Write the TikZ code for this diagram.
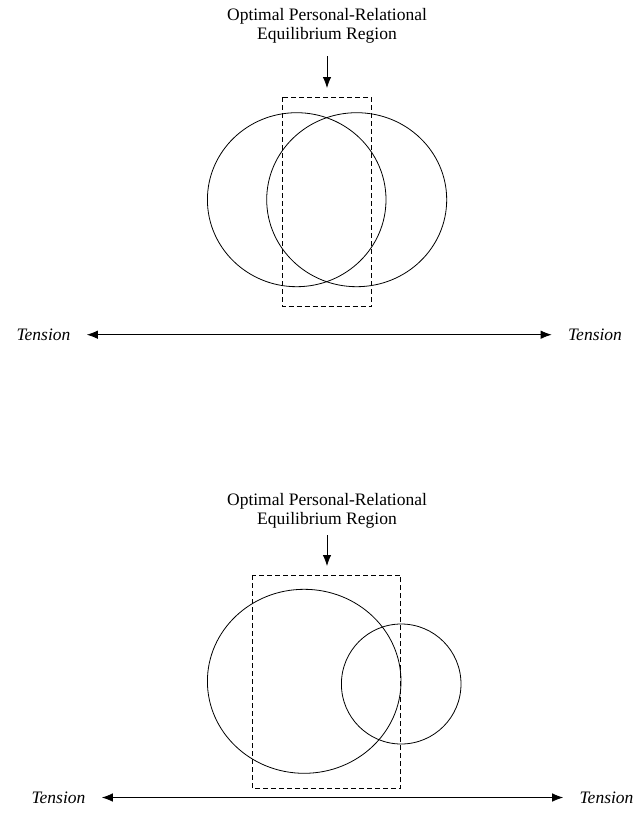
\documentclass[tikz,border=0pt]{standalone}
\usepackage{fontspec}
\setmainfont{Liberation Serif}
\usetikzlibrary{arrows.meta}

\begin{document}
\begin{tikzpicture}[x=1pt, y=-1pt, line width=0.8pt,
  region/.style={align=center, font=\fontsize{17.5}{19}\selectfont, inner sep=0pt},
  tensionlabel/.style={font=\fontsize{17.5}{19}\selectfont\itshape, inner xsep=16pt, inner ysep=0pt},
  tip/.style={-{Latex[length=11pt, width=8.5pt]}},
  twotip/.style={{Latex[length=11pt, width=8.5pt]}-{Latex[length=11pt, width=8.5pt]}},
  regionbox/.style={dash pattern=on 5pt off 3pt}]
\useasboundingbox (0,0) rectangle (644,822);
% upper panel
\node[region, anchor=north] (title1) at (327,8) {Optimal Personal-Relational\\Equilibrium Region};
\coordinate (arr1) at (327,88) ;
\draw[tip] (327,56) -- (arr1) ;
\draw (296.7,199.7) ellipse [x radius=89.3, y radius=87] ;
\draw (356.7,199.7) ellipse [x radius=90, y radius=87] ;
\draw[regionbox] (282,97.3) rectangle (371.7,306.7) ;
\node[tensionlabel] (tl1) at (43.5,334.7) {Tension};
\node[tensionlabel] (tr1) at (595,334.7) {Tension};
\draw[twotip] (tl1) -- (tr1) ;
% lower panel
\node[region, anchor=north] (title2) at (327,493) {Optimal Personal-Relational\\Equilibrium Region};
\coordinate (arr2) at (327,566) ;
\draw[tip] (327,535) -- (arr2) ;
\draw (304.2,681.3) ellipse [x radius=96.8, y radius=92] ;
\draw (401.2,684) ellipse [x radius=59.8, y radius=60] ;
\draw[regionbox] (252.3,575) rectangle (400.7,788.3) ;
\node[tensionlabel] (tl2) at (58.5,797.5) {Tension};
\node[tensionlabel] (tr2) at (606.5,797.5) {Tension};
\draw[twotip] (tl2) -- (tr2) ;
\end{tikzpicture}
\end{document}
